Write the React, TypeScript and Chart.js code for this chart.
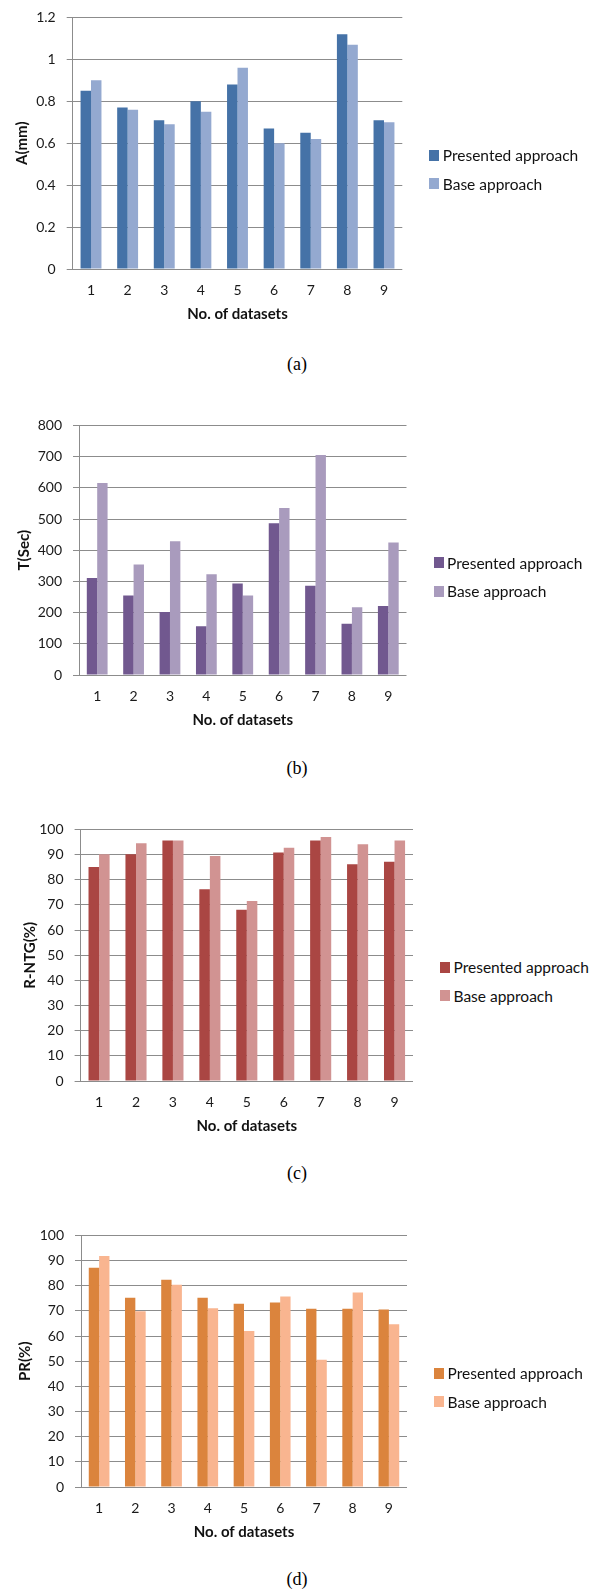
import React, { useEffect, useRef } from 'react';
import { Chart, registerables } from 'chart.js';

Chart.register(...registerables);

// ---------- data ----------
const categories = ['1', '2', '3', '4', '5', '6', '7', '8', '9'];
const seriesNames = ['Presented approach', 'Base approach'];
const xTitle = 'No. of datasets';

const aPresented = [0.85, 0.77, 0.71, 0.8, 0.88, 0.67, 0.65, 1.12, 0.71];
const aBase = [0.9, 0.76, 0.69, 0.75, 0.96, 0.6, 0.62, 1.07, 0.7];
const aTicks = [0, 0.2, 0.4, 0.6, 0.8, 1, 1.2];

const bPresented = [311, 255, 202, 156, 293, 486, 286, 164, 221];
const bBase = [615, 354, 429, 323, 255, 535, 705, 217, 425];
const bTicks = [0, 100, 200, 300, 400, 500, 600, 700, 800];

const cPresented = [85.1, 90.1, 95.6, 76.2, 68.1, 90.8, 95.6, 86.1, 87.1];
const cBase = [90.1, 94.5, 95.6, 89.4, 71.5, 92.7, 97, 94.1, 95.6];
const cTicks = [0, 10, 20, 30, 40, 50, 60, 70, 80, 90, 100];

const dPresented = [87.1, 75.2, 82.4, 75.2, 72.8, 73.3, 70.8, 70.8, 70.5];
const dBase = [91.8, 69.9, 80.4, 71, 62, 75.7, 50.6, 77.3, 64.7];
const dTicks = [0, 10, 20, 30, 40, 50, 60, 70, 80, 90, 100];

// ---------- layout / style ----------
const FONT = "Lato, 'Open Sans', sans-serif";
const GRID = '#8c8c8c';
const CANVAS_W = 440;
const TOP_PAD = 16;
const X_AXIS_H = 55;
const TICK_SIZE = 14;
const TITLE_SIZE = 15;
const LEGEND_SIZE = 15.5;

type Panel = {
  caption: string;
  yTitle: string;
  presented: number[];
  base: number[];
  ticks: number[];
  colors: [string, string];
  left: number;
  right: number;
  top: number;
  bottom: number;
  yTitleX: number;
  captionY: number;
};

const panels: Panel[] = [
  {
    caption: '(a)', yTitle: 'A(mm)', presented: aPresented, base: aBase, ticks: aTicks,
    colors: ['#4572A7', '#94A9D0'], left: 72.7, right: 402.3, top: 14, bottom: 269,
    yTitleX: 21.7, captionY: 364,
  },
  {
    caption: '(b)', yTitle: 'T(Sec)', presented: bPresented, base: bBase, ticks: bTicks,
    colors: ['#71588F', '#A99BBD'], left: 79, right: 406.5, top: 421.7, bottom: 675.3,
    yTitleX: 24, captionY: 768,
  },
  {
    caption: '(c)', yTitle: 'R-NTG(%)', presented: cPresented, base: cBase, ticks: cTicks,
    colors: ['#AA4643', '#D19392'], left: 80.6, right: 413, top: 826, bottom: 1081,
    yTitleX: 30, captionY: 1173,
  },
  {
    caption: '(d)', yTitle: 'PR(%)', presented: dPresented, base: dBase, ticks: dTicks,
    colors: ['#DB843D', '#F9B590'], left: 81, right: 407, top: 1232, bottom: 1487,
    yTitleX: 25.5, captionY: 1579,
  },
];

function fmt(v: number) {
  return String(Number(v.toFixed(2)));
}

function BarPanel({ p }: { p: Panel }) {
  const ref = useRef<HTMLCanvasElement | null>(null);
  const canvasTop = p.top - TOP_PAD;
  const canvasH = TOP_PAD + (p.bottom - p.top) + X_AXIS_H;

  useEffect(() => {
    if (!ref.current) return;
    const ticks = p.ticks;
    const tickLine = TICK_SIZE * 1.2;
    const titleLine = TITLE_SIZE * 1.2;
    const chart = new Chart(ref.current, {
      type: 'bar',
      data: {
        labels: categories,
        datasets: [
          {
            label: seriesNames[0],
            data: p.presented,
            backgroundColor: p.colors[0],
            borderWidth: 0,
            categoryPercentage: 0.571,
            barPercentage: 1.0,
          },
          {
            label: seriesNames[1],
            data: p.base,
            backgroundColor: p.colors[1],
            borderWidth: 0,
            categoryPercentage: 0.571,
            barPercentage: 1.0,
          },
        ],
      },
      options: {
        responsive: false,
        animation: false,
        devicePixelRatio: 1,
        layout: {
          padding: { top: TOP_PAD, left: 0, right: CANVAS_W - p.right, bottom: 0 },
        },
        plugins: {
          legend: { display: false },
          tooltip: { enabled: false },
        },
        scales: {
          x: {
            grid: { display: false, drawTicks: false },
            border: { display: false },
            ticks: {
              color: '#1a1a1a',
              font: { family: FONT, size: TICK_SIZE },
              padding: 21.5 - tickLine / 2,
              maxRotation: 0,
            },
            title: {
              display: true,
              text: xTitle,
              color: '#111',
              font: { family: FONT, size: TITLE_SIZE, weight: 'bold' },
              padding: { top: 0, bottom: X_AXIS_H - 45 - titleLine / 2 },
            },
            afterFit: (s: any) => {
              s.height = X_AXIS_H;
            },
          },
          y: {
            min: ticks[0],
            max: ticks[ticks.length - 1],
            afterBuildTicks: (s: any) => {
              s.ticks = ticks.map((v) => ({ value: v }));
            },
            grid: {
              color: GRID,
              lineWidth: 1,
              drawTicks: true,
              tickLength: 6,
            },
            border: { display: true, color: GRID, width: 1 },
            ticks: {
              color: '#1a1a1a',
              font: { family: FONT, size: TICK_SIZE },
              padding: 11,
              callback: (v: any) => fmt(Number(v)),
            },
            title: {
              display: true,
              text: p.yTitle,
              color: '#111',
              font: { family: FONT, size: TITLE_SIZE, weight: 'bold' },
              padding: { top: Math.max(0, p.yTitleX - titleLine / 2), bottom: 0 },
            },
            afterFit: (s: any) => {
              s.width = p.left;
            },
          },
        },
      },
    });
    return () => chart.destroy();
  }, [p]);

  const legendLeft = p.right + 27;
  const line1 = p.top + 141;
  const lines = [line1, line1 + 28.5];

  return (
    <>
      <canvas
        ref={ref}
        width={CANVAS_W}
        height={canvasH}
        style={{ position: 'absolute', left: 0, top: canvasTop, width: CANVAS_W, height: canvasH }}
      />
      {seriesNames.map((name, i) => (
        <React.Fragment key={name}>
          <div
            style={{
              position: 'absolute',
              left: legendLeft,
              top: lines[i] - 5.5,
              width: 10,
              height: 11,
              background: p.colors[i],
            }}
          />
          <div
            style={{
              position: 'absolute',
              left: legendLeft + 13.5,
              top: lines[i] - 10,
              height: 20,
              lineHeight: '20px',
              fontFamily: FONT,
              fontSize: LEGEND_SIZE,
              color: '#111',
              whiteSpace: 'nowrap',
            }}
          >
            {name}
          </div>
        </React.Fragment>
      ))}
      <div
        style={{
          position: 'absolute',
          left: 297 - 30,
          width: 60,
          top: p.captionY - 12,
          height: 24,
          lineHeight: '24px',
          textAlign: 'center',
          fontFamily: "'Liberation Serif', 'Times New Roman', serif",
          fontSize: 18,
          color: '#000',
        }}
      >
        {p.caption}
      </div>
    </>
  );
}

export default function App() {
  return (
    <div
      style={{
        position: 'absolute',
        left: 0,
        top: 0,
        width: 601,
        height: 1589,
        background: '#fff',
        overflow: 'hidden',
      }}
    >
      {panels.map((p) => (
        <BarPanel key={p.caption} p={p} />
      ))}
    </div>
  );
}
